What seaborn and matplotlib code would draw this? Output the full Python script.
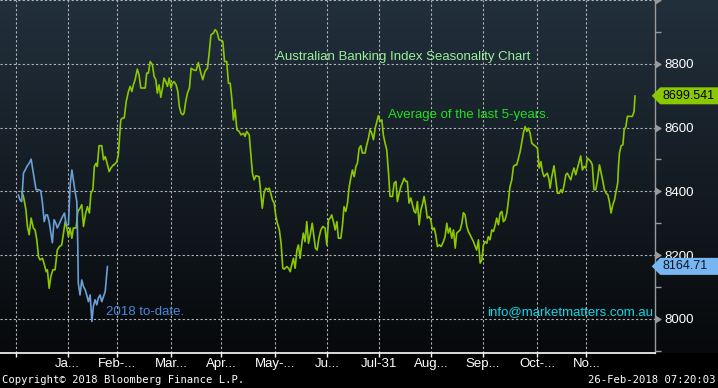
import numpy as np
import pandas as pd
import matplotlib
matplotlib.use("Agg")
import matplotlib.pyplot as plt
import seaborn as sns
from matplotlib.path import Path
from matplotlib.colors import LinearSegmentedColormap
from matplotlib.ticker import MultipleLocator, FixedLocator, FuncFormatter

# x = trading day of the seasonal year, y = index level
avg_day = [
    2.4, 3.1, 4.1, 4.7, 5.4, 6.2, 7.1, 7.8, 8.5, 9.2,
    9.8, 10.8, 11.6, 12.3, 12.8, 13.5, 14.2, 15.0, 15.9, 16.8,
    17.7, 18.6, 19.3, 20.0, 20.7, 21.3, 22.0, 22.7, 23.3, 24.4,
    25.1, 26.0, 26.7, 27.4, 28.3, 29.0, 29.8, 30.4, 31.2, 31.8,
    32.5, 33.0, 33.7, 34.8, 35.5, 36.2, 36.8, 37.8, 38.5, 39.5,
    39.8, 40.9, 41.5, 42.5, 43.2, 43.9, 44.7, 45.6, 46.3, 47.0,
    47.6, 48.3, 49.2, 49.9, 50.6, 51.7, 52.4, 53.0, 53.7, 54.4,
    55.3, 56.0, 56.7, 57.3, 58.0, 58.7, 59.4, 60.0, 60.7, 61.4,
    62.1, 62.8, 63.4, 64.1, 64.9, 65.6, 66.2, 66.9, 67.6, 68.1,
    68.8, 69.5, 70.3, 71.0, 71.9, 73.0, 73.9, 74.9, 75.7, 76.6,
    77.6, 78.3, 79.0, 80.0, 80.7, 81.4, 82.3, 83.4, 83.8, 84.5,
    85.4, 86.1, 86.8, 87.5, 88.1, 88.8, 89.5, 90.4, 91.2, 92.2,
    92.8, 93.5, 94.5, 95.1, 95.8, 96.5, 97.2, 98.5, 99.2, 99.8,
    100.5, 101.2, 101.9, 102.6, 103.2, 103.9, 104.6, 105.3, 105.9, 106.7,
    107.4, 108.1, 108.7, 109.7, 110.4, 111.1, 111.7, 112.4, 113.1, 113.8,
    114.4, 115.1, 115.8, 116.4, 117.1, 117.8, 118.5, 119.2, 120.0, 120.7,
    121.3, 122.0, 122.7, 123.5, 124.3, 125.2, 125.9, 126.6, 127.3, 127.9,
    128.6, 129.3, 130.0, 130.6, 131.6, 132.2, 132.9, 133.6, 134.3, 134.9,
    135.6, 136.3, 137.0, 137.7, 138.3, 139.0, 139.7, 140.3, 141.4, 142.1,
    142.8, 143.4, 144.1, 144.8, 145.5, 146.2, 146.8, 147.5, 148.2, 148.8,
    149.5, 150.2, 150.9, 151.5, 152.5, 153.2, 153.9, 154.5, 155.2, 155.9,
    156.5, 157.2, 157.9, 158.5, 159.2, 159.9, 160.6, 161.3, 161.9, 162.6,
    163.3, 164.0, 164.6, 165.3, 166.0, 166.6, 167.3, 168.0, 168.7, 169.4,
    170.0, 170.7, 171.4, 172.2, 173.1, 173.8, 174.5, 175.1, 175.8, 176.5,
    177.2, 177.9, 178.5, 179.2, 179.9, 180.6, 181.2, 181.9, 182.6, 183.2,
    183.9, 184.6, 185.3, 186.0, 186.6, 187.3, 188.0, 188.7, 189.3, 190.0,
    190.7, 191.3, 192.0, 192.7, 193.4, 194.1, 194.7, 195.4, 196.1, 196.8,
    197.4, 198.1, 198.8, 199.4, 200.1, 200.8, 201.5, 202.2, 202.8, 203.5,
    204.2, 204.9, 205.5, 206.2, 206.9, 207.5, 208.2, 208.9, 209.6, 210.5,
    211.2, 211.9, 212.6, 213.2, 213.9, 214.6, 215.2, 215.9, 216.3, 217.0,
    217.9, 218.6, 219.3, 220.0, 220.7, 221.3, 222.0, 222.7, 223.3, 224.0,
    224.7, 225.3, 226.0, 226.7, 227.4, 228.1, 228.7, 229.4, 230.1, 230.8,
    231.4, 232.1, 232.8, 233.4, 234.1, 234.8, 235.5, 236.3, 237.0, 237.7,
    238.3, 239.0, 239.7, 240.3, 241.0, 241.7, 242.4, 243.0, 243.7, 244.0,
    244.4, 245.1, 245.8, 246.3, 247.0, 247.6, 248.7, 249.6, 250.3, 250.7,
]
avg_level = [
    8399, 8384, 8342, 8290, 8264, 8316, 8285, 8279, 8248, 8195,
    8185, 8190, 8169, 8148, 8154, 8096, 8133, 8154, 8154, 8216,
    8227, 8232, 8269, 8305, 8285, 8258, 8285, 8253, 8285, 8285,
    8337, 8347, 8358, 8290, 8332, 8352, 8332, 8394, 8405, 8478,
    8488, 8478, 8543, 8543, 8499, 8509, 8493, 8462, 8473, 8483,
    8483, 8493, 8514, 8624, 8630, 8630, 8682, 8713, 8729, 8713,
    8734, 8750, 8783, 8765, 8724, 8724, 8724, 8771, 8771, 8807,
    8797, 8760, 8750, 8708, 8734, 8695, 8724, 8755, 8744, 8729,
    8755, 8724, 8739, 8744, 8734, 8713, 8666, 8645, 8640, 8645,
    8682, 8708, 8724, 8786, 8781, 8779, 8804, 8771, 8750, 8776,
    8786, 8834, 8891, 8896, 8907, 8901, 8875, 8873, 8870, 8807,
    8807, 8739, 8739, 8687, 8624, 8656, 8593, 8588, 8577, 8582,
    8572, 8588, 8577, 8520, 8457, 8436, 8449, 8446, 8394, 8347,
    8394, 8410, 8405, 8410, 8394, 8373, 8363, 8321, 8300, 8279,
    8237, 8159, 8156, 8164, 8159, 8148, 8169, 8190, 8159, 8216,
    8232, 8190, 8237, 8269, 8242, 8305, 8237, 8264, 8300, 8258,
    8222, 8216, 8253, 8279, 8290, 8285, 8232, 8311, 8316, 8326,
    8305, 8279, 8305, 8253, 8253, 8290, 8352, 8337, 8363, 8410,
    8441, 8467, 8446, 8478, 8488, 8535, 8543, 8520, 8520, 8546,
    8567, 8593, 8583, 8562, 8598, 8619, 8637, 8619, 8624, 8577,
    8551, 8530, 8457, 8384, 8384, 8426, 8431, 8368, 8394, 8415,
    8426, 8441, 8431, 8431, 8363, 8379, 8358, 8337, 8332, 8368,
    8295, 8342, 8358, 8384, 8352, 8316, 8321, 8311, 8279, 8285,
    8264, 8227, 8232, 8227, 8242, 8258, 8300, 8269, 8285, 8253,
    8279, 8222, 8269, 8274, 8279, 8300, 8333, 8326, 8290, 8274,
    8264, 8253, 8242, 8227, 8216, 8248, 8175, 8185, 8232, 8242,
    8237, 8258, 8248, 8279, 8274, 8295, 8316, 8295, 8332, 8337,
    8305, 8311, 8332, 8368, 8415, 8436, 8478, 8483, 8483, 8504,
    8525, 8556, 8583, 8603, 8588, 8598, 8583, 8551, 8546, 8541,
    8535, 8473, 8493, 8462, 8446, 8452, 8457, 8436, 8410, 8446,
    8480, 8436, 8394, 8394, 8405, 8396, 8420, 8452, 8457, 8446,
    8436, 8457, 8473, 8452, 8473, 8493, 8511, 8467, 8478, 8473,
    8504, 8499, 8493, 8483, 8405, 8405, 8436, 8483, 8457, 8431,
    8405, 8394, 8389, 8368, 8332, 8358, 8373, 8399, 8426, 8478,
    8520, 8543, 8546, 8593, 8603, 8635, 8635, 8635, 8650, 8699.541,
]

ytd_day = [
    1.0, 1.7, 2.4, 3.1, 3.8, 4.5, 5.4, 6.2, 7.1, 8.2,
    9.2, 10.1, 10.8, 11.5, 12.2, 12.8, 13.5, 14.2, 14.8, 15.5,
    16.2, 16.8, 17.7, 18.6, 19.7, 20.4, 21.3, 22.0, 22.7, 23.3,
    24.0, 24.7, 25.1, 25.3, 26.0, 26.7, 27.4, 28.1, 28.7, 29.4,
    30.1, 30.8, 31.4, 32.1, 32.8, 33.4, 34.1, 34.8, 35.5, 36.2,
    36.6, 37.1,
]
ytd_level = [
    8389, 8373, 8368, 8457, 8467, 8478, 8488, 8501, 8457, 8405,
    8405, 8402, 8363, 8305, 8326, 8326, 8305, 8269, 8239, 8311,
    8300, 8285, 8300, 8316, 8332, 8295, 8295, 8420, 8467, 8436,
    8399, 8368, 8227, 8112, 8075, 8122, 8101, 8091, 8075, 8054,
    8075, 7992, 8039, 8060, 8044, 8065, 8075, 8054, 8070, 8086,
    8122, 8164.71,
]

month_ticks = [0, 21, 41, 63, 83, 105, 126, 147, 168, 189, 211, 231]
month_labels = ["", "Ja...", "Feb-...", "Mar...", "Apr...", "May-...", "Ju...",
                "Jul-31", "Aug...", "Sep...", "Oct-...", "No..."]

avg_df = pd.DataFrame({"day": avg_day, "level": avg_level})
ytd_df = pd.DataFrame({"day": ytd_day, "level": ytd_level})

GREEN = "#8cc800"
BLUE = "#6a9fd8"
AXIS_GREY = "#9a9a9a"

sns.set_style("dark")
plt.rcParams['font.family'] = ['Liberation Sans', 'DejaVu Sans']

fig = plt.figure(figsize=(7.18, 3.88), dpi=100, facecolor="black")

# background gradient behind plot area and the price tags
bg = fig.add_axes([0, 0.091, 1, 0.909])
bg_cmap = LinearSegmentedColormap.from_list("bbg", ["#22303c", "#07090b"])
bg.imshow(np.linspace(0, 1, 256).reshape(-1, 1), cmap=bg_cmap, aspect="auto",
          extent=[0, 1, 0, 1])
bg.axis("off")

ax = fig.add_axes([0, 0.091, 0.9123, 0.909])
ax.set_facecolor("none")

sns.lineplot(data=avg_df, x="day", y="level", ax=ax, color=GREEN, lw=1.2,
             estimator=None, sort=False)
sns.lineplot(data=ytd_df, x="day", y="level", ax=ax, color=BLUE, lw=1.2,
             estimator=None, sort=False)

ax.set_xlim(-6.4, 258.8)
ax.set_ylim(7894, 9000)
ax.set_xlabel("")
ax.set_ylabel("")

ax.xaxis.set_major_locator(FixedLocator(month_ticks))
ax.set_xticklabels(month_labels)
ax.yaxis.set_major_locator(MultipleLocator(200))
ax.yaxis.set_minor_locator(MultipleLocator(100))
ax.yaxis.set_major_formatter(FuncFormatter(lambda v, p: "" if v > 8900 else f"{v:.0f}"))
ax.yaxis.tick_right()

ax.grid(True, which="major", color="#b4b4b4", linestyle=(0, (2, 2)), linewidth=0.8)
for side in ["left", "top"]:
    ax.spines[side].set_visible(False)
ax.spines["right"].set_color(AXIS_GREY)
ax.spines["right"].set_linewidth(1.0)
ax.spines["bottom"].set_color("white")
ax.spines["bottom"].set_linewidth(1.2)

ax.tick_params(axis="x", colors="white", length=3, width=1, direction="out",
               pad=0.5, labelsize=9.5, bottom=True)
ax.tick_params(axis="y", which="major", colors=AXIS_GREY, labelcolor="white",
               length=0, pad=7, labelsize=9.5, right=True, left=False)
ax.tick_params(axis="y", which="minor", colors=AXIS_GREY, length=4, width=1,
               direction="out", right=True, left=False)

# right-pointing triangles for the major price ticks
tri = Path([(0, -1), (1.6, 0), (0, 1), (0, -1)], closed=True)
for t in ax.yaxis.get_major_ticks():
    t.tick2line.set_marker(tri)
    t.tick2line.set_markersize(8)
    t.tick2line.set_markerfacecolor(AXIS_GREY)
    t.tick2line.set_markeredgecolor(AXIS_GREY)


def price_tag(x0, y0, width, height, mutation_size):
    pad = mutation_size * 0.2
    x0, y0 = x0 - pad, y0 - pad
    x1, y1 = x0 + width + 2 * pad, y0 + height + 2 * pad
    tip = (y1 - y0) / 2
    return Path([(x0, y0), (x1 + 10, y0), (x1 + 10, y1), (x0, y1),
                 (x0 - tip, (y0 + y1) / 2), (x0, y0)], closed=True)


ax.annotate(f"{avg_level[-1]:.3f}", xy=(1, avg_level[-1]), xycoords=("axes fraction", "data"),
            xytext=(5.5, 0), textcoords="offset points", ha="left", va="center",
            fontsize=9, color="black", annotation_clip=False,
            bbox=dict(boxstyle=price_tag, fc=GREEN, ec="none"))
ax.annotate(f"{ytd_level[-1]:.2f}", xy=(1, ytd_level[-1]), xycoords=("axes fraction", "data"),
            xytext=(5.5, 0), textcoords="offset points", ha="left", va="center",
            fontsize=9, color="#0a1624", annotation_clip=False,
            bbox=dict(boxstyle=price_tag, fc="#78b6f2", ec="none"))

ax.text(105.4, 8822, "Australian Banking Index Seasonality Chart", color="#9cf09c",
        fontsize=9.5, ha="left", va="center")
ax.text(150.7, 8640, "Average of the last 5-years.", color="#20e020",
        fontsize=9.5, ha="left", va="center")
ax.text(36.6, 8022, "2018 to-date.", color="#4a86d8", fontsize=9.5, ha="left", va="center")
ax.text(190.8, 8022, "info@marketmatters.com.au", color="#10d8e8",
        fontsize=9.5, ha="left", va="center")

fig.text(0.003, 0.021, "Copyright\u00a9 2018 Bloomberg Finance L.P.", color="white",
         fontsize=7.6, family="DejaVu Sans Mono", ha="left", va="center")
fig.text(0.997, 0.021, "26-Feb-2018 07:20:03", color="white",
         fontsize=7.6, family="DejaVu Sans Mono", ha="right", va="center")

fig.savefig("out.png", dpi=100, facecolor="black")
